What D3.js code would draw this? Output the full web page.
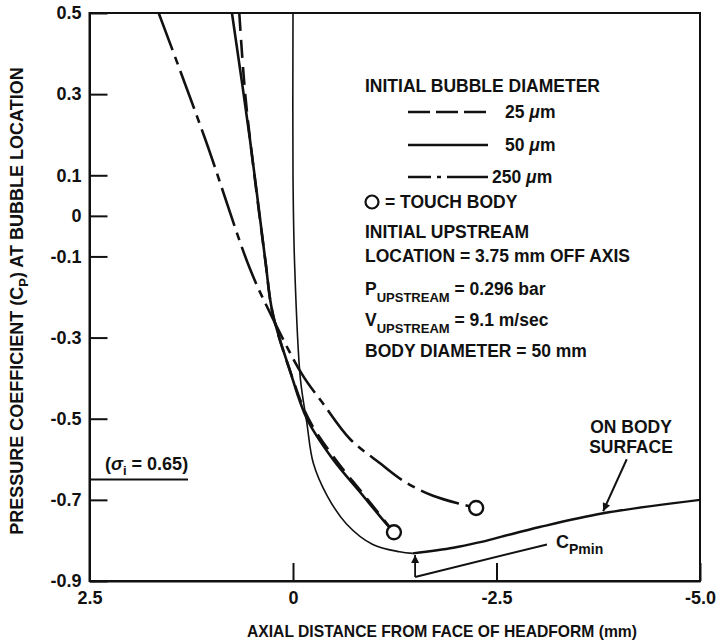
<!DOCTYPE html>
<html>
<head>
<meta charset="utf-8">
<script src="https://cdn.jsdelivr.net/npm/d3@7"></script>
<style>
  body { margin: 0; background: #fff; }
  svg text { font-family: "Liberation Sans", Arial, Helvetica, sans-serif; font-weight: bold; fill: #111; }
</style>
</head>
<body>
<div id="chart"></div>
<script>
// tick values / labels
const xTicks = [2.5, 0, -2.5, -5.0];
const xTickLabels = ['2.5', '0', '-2.5', '-5.0'];
const yTicks = [0.5, 0.3, 0.1, 0, -0.1, -0.3, -0.5, -0.7, -0.9];
const yTickLabels = ['0.5', '0.3', '0.1', '0', '-0.1', '-0.3', '-0.5', '-0.7', '-0.9'];

// trajectories: [axial distance (mm), Cp]
const bubble25 = [[0.66, 0.5], [0.60, 0.33], [0.54, 0.21], [0.34, -0.11], [0.25, -0.24],
  [0.04, -0.38], [-0.19, -0.50], [-0.52, -0.60], [-0.84, -0.68], [-1.16, -0.76], [-1.24, -0.78]];
const bubble50 = [[0.75, 0.5], [0.53, 0.19], [0.34, -0.11], [0.25, -0.24], [0.04, -0.38],
  [-0.17, -0.50], [-0.49, -0.60], [-0.82, -0.68], [-1.15, -0.76], [-1.24, -0.78]];
const bubble250 = [[1.65, 0.5], [1.08, 0.19], [0.53, -0.13], [0.28, -0.24], [-0.11, -0.39],
  [-0.36, -0.46], [-0.70, -0.55], [-1.07, -0.61], [-1.37, -0.655], [-1.72, -0.69],
  [-2.09, -0.712], [-2.25, -0.72]];
const bodySurface = [[0, 0.5], [0, 0.1], [-0.02, -0.12], [-0.09, -0.40], [-0.17, -0.51],
  [-0.25, -0.61], [-0.42, -0.69], [-0.66, -0.76], [-0.98, -0.81], [-1.31, -0.828],
  [-1.47, -0.832], [-1.97, -0.818], [-2.30, -0.804], [-2.54, -0.792], [-3.03, -0.767],
  [-3.81, -0.733], [-5.0, -0.70]];
const touchBody = [[-1.24, -0.78], [-2.25, -0.72]];
const sigmaLine = [[2.5, -0.65], [1.29, -0.65]];
const cpMinArrow = [[-1.50, -0.89], [-1.50, -0.836]];
const cpMinLeader = [[-1.50, -0.89], [-3.12, -0.81]];
const bodyArrow = [[-4.10, -0.60], [-3.81, -0.728]];

const W = 716, H = 643;
const svg = d3.select('#chart').append('svg').attr('width', W).attr('height', H);

const x = d3.scaleLinear().domain([2.5, -5]).range([89.5, 700]);
const y = d3.scaleLinear().domain([-0.9, 0.5]).range([581, 13]);

const defs = svg.append('defs');
defs.append('clipPath').attr('id', 'plot')
  .append('rect').attr('x', x(2.5)).attr('y', y(0.5))
  .attr('width', x(-5) - x(2.5)).attr('height', y(-0.9) - y(0.5));
defs.append('marker')
  .attr('id', 'arrow').attr('viewBox', '0 0 10 10')
  .attr('refX', 10).attr('refY', 5)
  .attr('markerUnits', 'userSpaceOnUse')
  .attr('markerWidth', 11).attr('markerHeight', 8)
  .attr('orient', 'auto')
  .append('path').attr('d', 'M0,0 L10,5 L0,10 z').attr('fill', '#111');

const curve = d3.line().x(d => x(d[0])).y(d => y(d[1])).curve(d3.curveCatmullRom.alpha(0.5));
const straight = d3.line().x(d => x(d[0])).y(d => y(d[1]));

// axes
const xAxis = svg.append('g')
  .attr('transform', `translate(0,${y(-0.9)})`)
  .call(d3.axisBottom(x).tickValues(xTicks).tickFormat((d, i) => xTickLabels[i])
    .tickSizeInner(-18).tickSizeOuter(0).tickPadding(10));
const yAxis = svg.append('g')
  .attr('transform', `translate(${x(2.5)},0)`)
  .call(d3.axisLeft(y).tickValues(yTicks).tickFormat((d, i) => yTickLabels[i])
    .tickSizeInner(-18).tickSizeOuter(0).tickPadding(8));
[xAxis, yAxis].forEach(g => {
  g.attr('font-family', null).attr('font-size', null);
  g.selectAll('line, path').attr('stroke', '#111').attr('stroke-width', 2);
  g.selectAll('text').attr('font-size', 18);
});

// frame
svg.append('rect')
  .attr('x', x(2.5)).attr('y', y(0.5))
  .attr('width', x(-5) - x(2.5)).attr('height', y(-0.9) - y(0.5))
  .attr('fill', 'none').attr('stroke', '#111').attr('stroke-width', 2);

const plot = svg.append('g').attr('clip-path', 'url(#plot)')
  .attr('fill', 'none').attr('stroke', '#111').attr('stroke-linecap', 'butt');

// body surface: thin going down to Cp min, heavier after it
const iMin = d3.minIndex(bodySurface, d => d[1]);
plot.append('path').attr('d', curve(bodySurface.slice(0, iMin + 1))).attr('stroke-width', 1.6);
plot.append('path').attr('d', curve(bodySurface.slice(iMin))).attr('stroke-width', 2.4);

plot.append('path').attr('d', curve(bubble50)).attr('stroke-width', 2.6);
plot.append('path').attr('d', curve(bubble25)).attr('stroke-width', 2.6).attr('stroke-dasharray', '18,9');
plot.append('path').attr('d', curve(bubble250)).attr('stroke-width', 2.6).attr('stroke-dasharray', '40,7,8,7');

// sigma_i line
plot.append('path').attr('d', straight(sigmaLine)).attr('stroke-width', 2);

// Cp min pointer and body surface pointer
plot.append('path').attr('d', straight(cpMinArrow)).attr('stroke-width', 1.8).attr('marker-end', 'url(#arrow)');
plot.append('path').attr('d', straight(cpMinLeader)).attr('stroke-width', 2);
plot.append('path').attr('d', straight(bodyArrow)).attr('stroke-width', 2).attr('marker-end', 'url(#arrow)');

// touch-body markers
svg.append('g').selectAll('circle').data(touchBody).join('circle')
  .attr('cx', d => x(d[0])).attr('cy', d => y(d[1])).attr('r', 7)
  .attr('fill', '#fff').attr('stroke', '#111').attr('stroke-width', 2.4);

// axis titles
svg.append('text')
  .attr('x', 442).attr('y', 637).attr('text-anchor', 'middle').attr('font-size', 17)
  .attr('textLength', 390).attr('lengthAdjust', 'spacingAndGlyphs')
  .text('AXIAL DISTANCE FROM FACE OF HEADFORM (mm)');
const yt = svg.append('text')
  .attr('transform', 'translate(23,301) rotate(-90)')
  .attr('text-anchor', 'middle').attr('font-size', 18);
yt.append('tspan').text('PRESSURE COEFFICIENT (C');
yt.append('tspan').attr('font-size', 13).attr('dy', 5).text('P');
yt.append('tspan').attr('dy', -5).text(') AT BUBBLE LOCATION');

// annotations
const sig = svg.append('text').attr('x', 105).attr('y', 470).attr('font-size', 18);
sig.append('tspan').text('(');
sig.append('tspan').attr('font-style', 'italic').text('σ');
sig.append('tspan').attr('font-size', 13).attr('dy', 5).text('i');
sig.append('tspan').attr('dy', -5).text(' = 0.65)');

const cpm = svg.append('text').attr('x', 556).attr('y', 548).attr('font-size', 18);
cpm.append('tspan').text('C');
cpm.append('tspan').attr('font-size', 14).attr('dy', 6).text('Pmin');

svg.append('text').attr('x', 631).attr('y', 433).attr('text-anchor', 'middle').attr('font-size', 17.5).text('ON BODY');
svg.append('text').attr('x', 631).attr('y', 453).attr('text-anchor', 'middle').attr('font-size', 17.5).text('SURFACE');

// legend and run conditions
const leg = svg.append('g').attr('font-size', 17.5);
leg.append('text').attr('x', 365).attr('y', 92).text('INITIAL BUBBLE DIAMETER');
const legendRows = [
  { label: '25 ', dash: '22,6', y: 112, tx: 505 },
  { label: '50 ', dash: null, y: 145, tx: 505 },
  { label: '250 ', dash: '23,6,4,6,60', y: 177, tx: 492 }
];
legendRows.forEach(r => {
  leg.append('line').attr('x1', 408).attr('x2', 488).attr('y1', r.y).attr('y2', r.y)
    .attr('stroke', '#111').attr('stroke-width', 2.6).attr('stroke-dasharray', r.dash);
  const t = leg.append('text').attr('x', r.tx).attr('y', r.y + 6);
  t.append('tspan').text(r.label);
  t.append('tspan').attr('font-style', 'italic').text('μ');
  t.append('tspan').text('m');
});
leg.append('circle').attr('cx', 372).attr('cy', 202).attr('r', 6.5)
  .attr('fill', '#fff').attr('stroke', '#111').attr('stroke-width', 2.2);
leg.append('text').attr('x', 385).attr('y', 208).text('= TOUCH BODY');
leg.append('text').attr('x', 365).attr('y', 238).text('INITIAL UPSTREAM');
leg.append('text').attr('x', 365).attr('y', 262).text('LOCATION = 3.75 mm OFF AXIS');
const pu = leg.append('text').attr('x', 365).attr('y', 295);
pu.append('tspan').text('P');
pu.append('tspan').attr('font-size', 13).attr('dy', 7).text('UPSTREAM');
pu.append('tspan').attr('dy', -7).text(' = 0.296 bar');
const vu = leg.append('text').attr('x', 365).attr('y', 326);
vu.append('tspan').text('V');
vu.append('tspan').attr('font-size', 13).attr('dy', 7).text('UPSTREAM');
vu.append('tspan').attr('dy', -7).text(' = 9.1 m/sec');
leg.append('text').attr('x', 365).attr('y', 357).text('BODY DIAMETER = 50 mm');
</script>
</body>
</html>
